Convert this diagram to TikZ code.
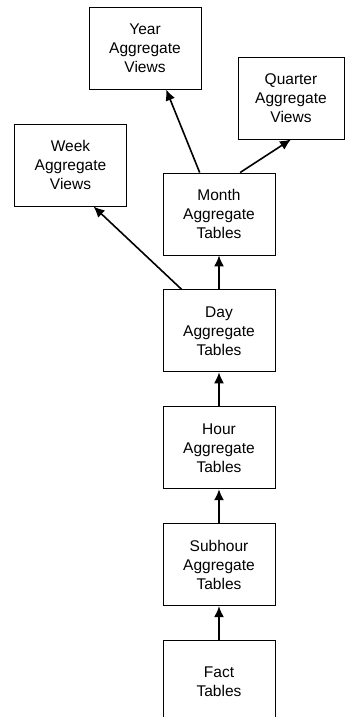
\documentclass[tikz,border=0pt]{standalone}
\usepackage{fontspec}
\setmainfont{Liberation Sans}
\usetikzlibrary{positioning,arrows.meta}

\begin{document}
\begin{tikzpicture}[x=1pt,y=1pt,node distance=34pt,every
			node/.style={draw,align=center,minimum width=112pt,minimum height=82pt,inner sep=0pt,line width=0.9pt,font=\fontsize{15.5}{19}\selectfont},
			aggarrow/.style={line width=1.6pt,-{Latex[length=11pt,width=10pt]}}]
			\useasboundingbox (0,0) rectangle (345,717);
			\node(monthagg) at (219,503) {Month\\Aggregate\\Tables};
			\node[below=of monthagg](dayagg) {Day\\Aggregate\\Tables};
			\node[below=of dayagg](houragg) {Hour\\Aggregate\\Tables};
			\node[below=of houragg](subhouragg) {Subhour\\Aggregate\\Tables};
			\node[below=of subhouragg](facttab) {Fact\\Tables};
			\node(yearagg) at (145,669) {Year\\Aggregate\\Views};
			\node[minimum width=106pt](quarteragg) at (291,619) {Quarter\\Aggregate\\Views};
			\node(weekagg) at (70.5,552) {Week\\Aggregate\\Views};
			\draw[aggarrow] (facttab.north) -- (subhouragg.south);
			\draw[aggarrow] (subhouragg.north) -- (houragg.south);
			\draw[aggarrow] (houragg.north) -- (dayagg.south);
			\draw[aggarrow] (dayagg.north) -- (monthagg.south);
			\draw[aggarrow] (dayagg.132) -- (weekagg.299);
			\draw[aggarrow] (monthagg.115) -- (yearagg.297);
			\draw[aggarrow] (monthagg.63) -- (quarteragg.south);
		\end{tikzpicture}
\end{document}
